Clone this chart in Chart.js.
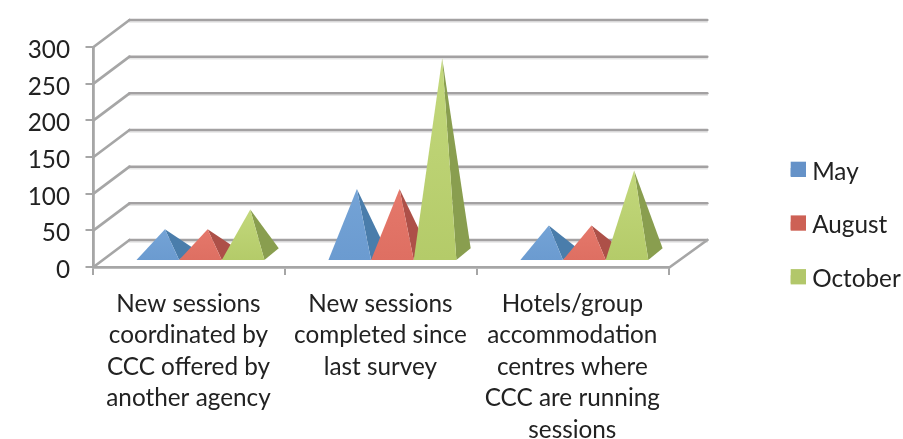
<!DOCTYPE html>
<html>
<head>
<meta charset="utf-8">
<style>
  html, body { margin: 0; padding: 0; background: #fff; }
  #wrap { width: 903px; height: 439px; position: relative; overflow: hidden; }
</style>
<script src="https://cdn.jsdelivr.net/npm/chart.js@4"></script>
</head>
<body>
<div id="wrap"><canvas id="chart" width="903" height="439"></canvas></div>
<script>
const categories = [
  ["New sessions", "coordinated by", "CCC offered by", "another agency"],
  ["New sessions", "completed since", "last survey"],
  ["Hotels/group", "accommodation", "centres where", "CCC are running", "sessions"]
];
const seriesNames = ["May", "August", "October"];
const mayValues = [34, 89, 39];
const augustValues = [34, 89, 39];
const octoberValues = [61, 267, 114];
const legendColors = ["#6592c8", "#cd6155", "#b2c76a"];
const frontLight = ["#74a3d6", "#e5786b", "#c3d87c"];
const frontDark = ["#6b9bd0", "#de6f62", "#b4cb69"];
const sideColors = ["#4a7dab", "#ad5048", "#899e4f"];
const yTicks = [0, 50, 100, 150, 200, 250, 300];

const TEXT = "#222222";
const AXIS = "#a6a6a6";
const WALL = "#a3a1a2";
const FONT = "Lato, Carlito, sans-serif";
const FONT_SIZE = 24.3;

// Oblique projection of the floor: how far the back wall sits from the front plane.
const WALL_DX = 36, WALL_DX_RIGHT = 38, WALL_DY = -27;
// Where a pyramid's base sits on the floor, and how deep it is.
const BASE_DX = 11, BASE_DY = -7, DEPTH_DX = 14.3, DEPTH_DY = -11.7;
// Legend layout: full swatch size, row padding, swatch column and label drop.
const SWATCH = 15.3, LEGEND_PAD = 29.4, LEGEND_X = 790.7, LEGEND_Y = 161.7, LABEL_DROP = 2.6;

const wallsAndPyramids = {
  id: "wallsAndPyramids",
  afterLayout(chart) {
    // The legend sits well clear of the plot, on the far right.
    const legend = chart.legend;
    legend.left = LEGEND_X - LEGEND_PAD;
    legend.right = 903;
    legend.top = LEGEND_Y - LEGEND_PAD - (FONT_SIZE - SWATCH) / 2 + LABEL_DROP;
    legend.bottom = legend.top + 200;
  },
  beforeDatasetDraw() {
    return false;
  },
  beforeDatasetsDraw(chart) {
    const { ctx, chartArea, scales } = chart;
    ctx.save();
    ctx.lineCap = "round";
    yTicks.forEach(v => {
      const y = scales.y.getPixelForValue(v);
      ctx.strokeStyle = AXIS;
      ctx.lineWidth = 2.7;
      ctx.beginPath();
      ctx.moveTo(chartArea.left, y);
      ctx.lineTo(chartArea.left + WALL_DX, y + WALL_DY);
      ctx.stroke();
      // Soft shade under each line of the back wall
      ctx.strokeStyle = "rgba(170,170,170,0.30)";
      ctx.lineWidth = 1.5;
      ctx.beginPath();
      ctx.moveTo(chartArea.left + WALL_DX, y + WALL_DY + 2);
      ctx.lineTo(chartArea.right + WALL_DX_RIGHT, y + WALL_DY + 2);
      ctx.stroke();
      ctx.strokeStyle = WALL;
      ctx.lineWidth = 2.5;
      ctx.beginPath();
      ctx.moveTo(chartArea.left + WALL_DX, y + WALL_DY);
      ctx.lineTo(chartArea.right + WALL_DX_RIGHT, y + WALL_DY);
      ctx.stroke();
    });
    const floorY = scales.y.getPixelForValue(0);
    ctx.strokeStyle = AXIS;
    ctx.lineWidth = 2.7;
    ctx.beginPath();
    ctx.moveTo(chartArea.right, floorY + 0.5);
    ctx.lineTo(chartArea.right + WALL_DX_RIGHT, floorY + WALL_DY);
    ctx.stroke();
    ctx.restore();
  },
  afterDatasetsDraw(chart) {
    const { ctx } = chart;
    const floorY = chart.scales.y.getPixelForValue(0);
    ctx.save();
    categories.forEach((_, c) => {
      seriesNames.forEach((_, s) => {
        const bar = chart.getDatasetMeta(s).data[c];
        const half = bar.width / 2;
        const x0 = bar.x - half + BASE_DX;
        const x1 = bar.x + half + BASE_DX;
        const yB = floorY + BASE_DY;
        const apexX = bar.x + BASE_DX + DEPTH_DX / 2;
        const apexY = bar.y + BASE_DY + DEPTH_DY / 2;

        ctx.fillStyle = sideColors[s];
        ctx.beginPath();
        ctx.moveTo(x1, yB);
        ctx.lineTo(x1 + DEPTH_DX, yB + DEPTH_DY);
        ctx.lineTo(apexX, apexY);
        ctx.closePath();
        ctx.fill();

        const grad = ctx.createLinearGradient(0, apexY, 0, yB);
        grad.addColorStop(0, frontLight[s]);
        grad.addColorStop(1, frontDark[s]);
        ctx.fillStyle = grad;
        ctx.beginPath();
        ctx.moveTo(x0, yB);
        ctx.lineTo(x1, yB);
        ctx.lineTo(apexX, apexY);
        ctx.closePath();
        ctx.fill();
      });
    });
    ctx.restore();
  },
  afterDraw(chart) {
    // The legend's text gap is tied to its font size, so its small boxes are
    // enlarged here to leave the tighter gap beside each label.
    const { ctx } = chart;
    const rowStep = FONT_SIZE + LEGEND_PAD;
    ctx.save();
    legendColors.forEach((color, i) => {
      ctx.fillStyle = color;
      ctx.fillRect(LEGEND_X, LEGEND_Y + i * rowStep, SWATCH, SWATCH);
    });
    ctx.restore();
  }
};

new Chart(document.getElementById("chart"), {
  type: "bar",
  data: {
    labels: categories,
    datasets: [
      { label: seriesNames[0], data: mayValues, backgroundColor: legendColors[0] },
      { label: seriesNames[1], data: augustValues, backgroundColor: legendColors[1] },
      { label: seriesNames[2], data: octoberValues, backgroundColor: legendColors[2] }
    ]
  },
  options: {
    responsive: false,
    animation: false,
    devicePixelRatio: 1,
    categoryPercentage: 2 / 3,
    barPercentage: 1,
    layout: { padding: { left: 0, top: 47, right: 100.7, bottom: 0 } },
    plugins: {
      title: { display: false },
      tooltip: { enabled: false },
      legend: {
        position: "right",
        align: "start",
        maxWidth: 133,
        labels: {
          boxWidth: 9.3,
          boxHeight: 8,
          padding: LEGEND_PAD,
          color: TEXT,
          font: { family: FONT, size: FONT_SIZE }
        }
      }
    },
    scales: {
      x: {
        afterFit(scale) { scale.height = 172; },
        grid: { drawOnChartArea: false, drawTicks: true, tickLength: 8, color: AXIS, lineWidth: 2 },
        border: { color: AXIS, width: 2.8 },
        ticks: {
          color: TEXT,
          padding: 13,
          labelOffset: -1,
          maxRotation: 0,
          autoSkip: false,
          font: { family: FONT, size: FONT_SIZE, lineHeight: 1.296 }
        }
      },
      y: {
        min: 0,
        max: 300,
        afterFit(scale) { scale.width = 93.5; },
        afterBuildTicks(scale) { scale.ticks = yTicks.map(value => ({ value })); },
        grid: { drawOnChartArea: false, drawTicks: true, tickLength: 8, color: AXIS, lineWidth: 2 },
        border: { color: AXIS, width: 2.8 },
        ticks: {
          color: TEXT,
          padding: 15.5,
          labelOffset: 3,
          font: { family: FONT, size: FONT_SIZE }
        }
      }
    }
  },
  plugins: [wallsAndPyramids]
});
</script>
</body>
</html>
